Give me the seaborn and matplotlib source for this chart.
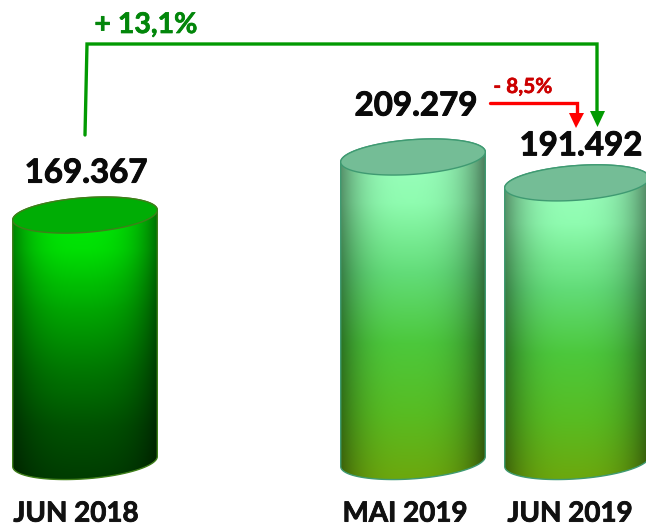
import matplotlib
matplotlib.use('Agg')
import numpy as np
import pandas as pd
import matplotlib.pyplot as plt
import matplotlib.patheffects as pe
from matplotlib.patches import Polygon
from matplotlib.transforms import ScaledTranslation
import seaborn as sns

# ---------------------------
# Data
# ---------------------------
months = ["JUN 2018", "MAI 2019", "JUN 2019"]
values = [169367, 209279, 191492]
value_labels = ["169.367", "209.279", "191.492"]
slots = ["JUN 2018", " ", "MAI 2019", "JUN 2019"]

dark_ramp = ["#00ef05", "#00e004", "#00a802", "#007a02", "#005202", "#003a01"]
light_ramp = ["#a0ffc4", "#8ffcb0", "#62dc78", "#4cc83c", "#58bc22", "#6ea60c"]
ramps = [dark_ramp, light_ramp, light_ramp]
cap_colors = ["#00ad05", "#74bd96", "#74bd96"]
edge_colors = ["#3f7f1a", "#3f9a72", "#3f9a72"]

W, H = 646, 527
BASE_PX = 461.5
PX_PER_VALUE = 0.001455

sns.set_theme(style="white")
plt.rcParams['font.family'] = ['Lato', 'DejaVu Sans']
plt.rcParams['font.weight'] = 'bold'

fig = plt.figure(figsize=(W / 100, H / 100), dpi=100)
ax = fig.add_axes([0, 0, 1, 1])

df = pd.DataFrame({"month": months, "value": values})
sns.barplot(data=df, x="month", y="value", order=slots, width=0.884, ax=ax)

# one slot is 164 px wide, first bar centred on x=85 px
slot_px = 164
xlim = (-85 / slot_px, (W - 85) / slot_px)
ylim = (-(H - BASE_PX) / PX_PER_VALUE, BASE_PX / PX_PER_VALUE)
ax.set_xlim(xlim)
ax.set_ylim(ylim)


def ellipse(cx, cy, a, b, t):
    # tilted ellipse, sizes in pixels, result in data units
    th = np.radians(4.2)
    x = a * np.cos(t) * np.cos(th) - b * np.sin(t) * np.sin(th)
    y = a * np.cos(t) * np.sin(th) + b * np.sin(t) * np.cos(th)
    return cx + x / slot_px, cy + y / PX_PER_VALUE


# ---------------------------
# Cylinders, on top of the seaborn bars
# ---------------------------
bars = [p for p in ax.patches if p.get_height() > 0]
for bar, ramp, cap, edge in zip(bars, ramps, cap_colors, edge_colors):
    bar.set_visible(False)
    cx = bar.get_x() + bar.get_width() / 2
    a = bar.get_width() / 2 * slot_px
    top = bar.get_height()
    b = 17.3

    # lateral extreme points of the tilted ellipse
    t0 = np.arctan2(-b * np.sin(np.radians(4.2)), a * np.cos(np.radians(4.2)))
    upper = np.linspace(t0, t0 + np.pi, 80)
    lower = np.linspace(t0 + np.pi, t0 + 2 * np.pi, 80)
    ux, uy = ellipse(cx, top, a, b, upper)
    lx, ly = ellipse(cx, 0, a, b, lower)
    body = Polygon(np.column_stack([np.r_[ux, lx], np.r_[uy, ly]]), closed=True,
                   facecolor="none", edgecolor=edge, linewidth=1.0, zorder=4)
    ax.add_patch(body)

    # shading: vertical ramp darkened to the sides, a bit more on the right
    cmap = sns.blend_palette(ramp, as_cmap=True)
    tt, uu = np.meshgrid(np.linspace(0, 1, 260), np.linspace(-1, 1, 160), indexing="ij")
    rgb = cmap(tt)[:, :, :3]
    side = 1 - 0.42 * np.abs(uu) ** 3.2 - 0.10 * np.clip(uu, 0, 1) ** 1.5
    rgb = rgb * side[:, :, None]
    dy = 25 / PX_PER_VALUE
    im = ax.imshow(rgb, extent=(cx - a / slot_px, cx + a / slot_px, -dy, top + dy),
                   aspect="auto", origin="upper", interpolation="bilinear", zorder=3)
    im.set_clip_path(body)

    cx_t, cy_t = ellipse(cx, top, a, b, np.linspace(0, 2 * np.pi, 160))
    ax.fill(cx_t, cy_t, facecolor=cap, edgecolor=edge, linewidth=1.0, zorder=5)

ax.set_xlim(xlim)
ax.set_ylim(ylim)

# ---------------------------
# Text
# ---------------------------
heavy = [pe.withStroke(linewidth=0.7, foreground="#0a0a0a")]
label_offsets = [(1, 42), (3, 51), (4, 37)]
for bar, label, (dx, dy) in zip(bars, value_labels, label_offsets):
    ax.annotate(label, (bar.get_x() + bar.get_width() / 2, bar.get_height()),
                xytext=(dx * 0.72, dy * 0.72), textcoords="offset points",
                ha="center", va="center", fontsize=23.8, fontweight="bold",
                color="#0a0a0a", zorder=6, path_effects=heavy)

ax.set_xlabel("")
ax.set_ylabel("")
ax.set_yticks([])
ax.tick_params(axis="x", length=0, pad=-19, labelsize=20, labelcolor="#111111")
ax.grid(False)
sns.despine(ax=ax, left=True, bottom=True)

# the category labels do not sit quite under their cylinders
tick_shift = {"JUN 2018": -9, "MAI 2019": -8, "JUN 2019": -7}
for tick in ax.get_xticklabels():
    shift = tick_shift.get(tick.get_text(), 0) * 0.72
    tick.set_transform(tick.get_transform() + ScaledTranslation(shift / 72, 0, fig.dpi_scale_trans))
    tick.set_path_effects([pe.withStroke(linewidth=0.6, foreground="#111111")])


# ---------------------------
# Change arrows, pixel positions
# ---------------------------
def fx(x):
    return np.array(x) / W


def fy(y):
    return 1 - np.array(y) / H


green = "#029a02"
red = "#fe0000"
ax.plot(fx([85, 87, 597, 597]), fy([135, 44, 44, 113]), color=green, lw=2.4,
        transform=fig.transFigure, solid_joinstyle="miter", zorder=6)
ax.fill(fx([590, 605, 597.5]), fy([111, 111, 127]), color=green, lw=0,
        transform=fig.transFigure, zorder=6)
ax.plot(fx([490, 577, 577]), fy([103, 103, 115]), color=red, lw=2.4,
        transform=fig.transFigure, solid_joinstyle="miter", zorder=6)
ax.fill(fx([569, 584, 576]), fy([113, 113, 128]), color=red, lw=0,
        transform=fig.transFigure, zorder=6)

fig.text(fx(146), fy(25), "+ 13,1%", color="#02860a", fontsize=20.5, fontweight="bold",
         ha="center", va="center", path_effects=[pe.withStroke(linewidth=0.5, foreground="#02860a")])
fig.text(fx(523), fy(87), "- 8,5%", color="#cc0000", fontsize=15, fontweight="bold",
         ha="center", va="center", path_effects=[pe.withStroke(linewidth=0.4, foreground="#cc0000")])

fig.savefig("out.png", dpi=100)
plt.close(fig)
